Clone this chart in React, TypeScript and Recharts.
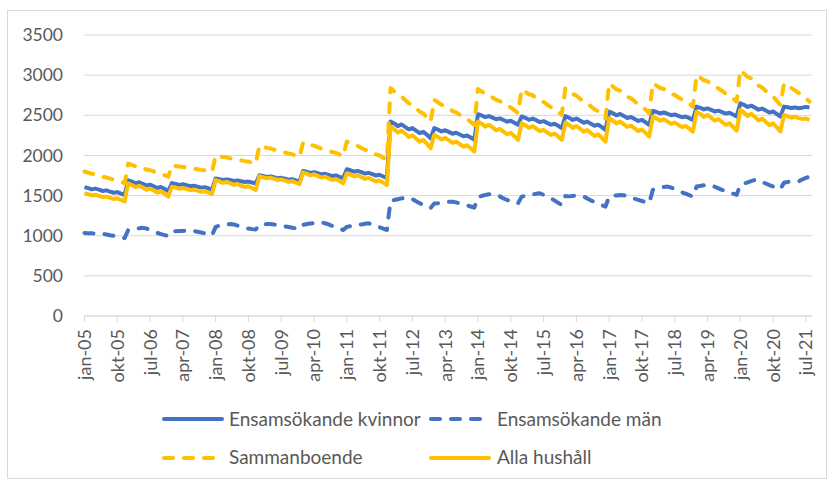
import React from 'react';
import { LineChart, Line, XAxis, YAxis, CartesianGrid, Legend } from 'recharts';

const monthNames = ['jan', 'feb', 'mar', 'apr', 'maj', 'jun', 'jul', 'aug', 'sep', 'okt', 'nov', 'dec'];
const yearLabels = ['05', '06', '07', '08', '09', '10', '11', '12', '13', '14', '15', '16', '17', '18', '19', '20', '21'];
const lastYearMonths = 8;

const categories: string[] = [];
yearLabels.forEach((yy, yi) => {
  const n = yi === yearLabels.length - 1 ? lastYearMonths : 12;
  for (let m = 0; m < n; m++) categories.push(`${monthNames[m]}-${yy}`);
});

const yTicks = [0, 500, 1000, 1500, 2000, 2500, 3000, 3500];

const kvinnor = [
  1605, 1593, 1577, 1587, 1573, 1557, 1565, 1550, 1535, 1543, 1525, 1505,
  1690, 1674, 1652, 1666, 1647, 1625, 1636, 1616, 1595, 1606, 1582, 1555,
  1655, 1645, 1633, 1641, 1629, 1617, 1623, 1611, 1599, 1605, 1591, 1575,
  1713, 1705, 1695, 1702, 1693, 1683, 1688, 1678, 1669, 1674, 1663, 1650,
  1754, 1744, 1731, 1739, 1728, 1715, 1721, 1709, 1697, 1703, 1688, 1672,
  1807, 1796, 1782, 1791, 1778, 1763, 1771, 1757, 1743, 1751, 1734, 1716,
  1828, 1815, 1797, 1808, 1792, 1774, 1783, 1766, 1750, 1759, 1738, 1716,
  2423, 2398, 2365, 2386, 2356, 2323, 2340, 2309, 2277, 2294, 2257, 2215,
  2340, 2322, 2299, 2314, 2293, 2270, 2282, 2260, 2238, 2249, 2223, 2194,
  2514, 2498, 2477, 2490, 2471, 2450, 2461, 2441, 2421, 2432, 2408, 2381,
  2485, 2468, 2444, 2459, 2439, 2415, 2427, 2405, 2383, 2395, 2369, 2340,
  2490, 2469, 2442, 2459, 2435, 2407, 2421, 2395, 2370, 2383, 2352, 2318,
  2546, 2526, 2500, 2516, 2493, 2466, 2480, 2455, 2430, 2443, 2413, 2380,
  2555, 2541, 2523, 2535, 2519, 2501, 2510, 2493, 2476, 2485, 2465, 2442,
  2608, 2593, 2573, 2586, 2568, 2548, 2558, 2540, 2521, 2531, 2509, 2484,
  2650, 2630, 2604, 2620, 2597, 2570, 2584, 2559, 2534, 2547, 2517, 2484,
  2608, 2600, 2590, 2598, 2588, 2595, 2605, 2598,
];

const man = [
  1035, 1032, 1030, 1028, 1030, 1025, 1015, 1005, 1000, 990, 980, 970,
  1070, 1080, 1088, 1092, 1098, 1090, 1070, 1050, 1035, 1020, 1008, 996,
  1050, 1055, 1058, 1060, 1062, 1065, 1060, 1050, 1040, 1030, 1018, 1005,
  1110, 1125, 1135, 1142, 1145, 1140, 1125, 1110, 1098, 1090, 1082, 1078,
  1135, 1140, 1145, 1147, 1140, 1130, 1122, 1115, 1108, 1100, 1092, 1085,
  1135, 1145, 1152, 1158, 1162, 1166, 1155, 1140, 1122, 1105, 1088, 1071,
  1110, 1118, 1125, 1133, 1140, 1148, 1154, 1140, 1125, 1105, 1088, 1071,
  1433, 1445, 1455, 1465, 1470, 1474, 1455, 1430, 1405, 1385, 1365, 1345,
  1400, 1405, 1412, 1418, 1422, 1424, 1415, 1402, 1390, 1378, 1364, 1350,
  1480, 1495, 1508, 1516, 1520, 1515, 1490, 1465, 1445, 1430, 1415, 1403,
  1487, 1495, 1505, 1515, 1522, 1528, 1510, 1490, 1465, 1440, 1410, 1383,
  1495, 1490, 1495, 1500, 1498, 1488, 1465, 1440, 1420, 1400, 1380, 1363,
  1488, 1495, 1502, 1508, 1505, 1490, 1475, 1460, 1446, 1432, 1418, 1405,
  1571, 1585, 1598, 1608, 1612, 1600, 1580, 1560, 1540, 1525, 1505, 1488,
  1612, 1620, 1628, 1633, 1625, 1610, 1590, 1571, 1555, 1540, 1524, 1508,
  1633, 1648, 1665, 1680, 1695, 1690, 1670, 1650, 1630, 1612, 1595, 1580,
  1660, 1670, 1674, 1672, 1675, 1700, 1720, 1737,
];

const sammanboende = [
  1800, 1785, 1771, 1765, 1749, 1734, 1726, 1712, 1697, 1688, 1671, 1653,
  1898, 1882, 1865, 1859, 1841, 1824, 1816, 1800, 1783, 1773, 1754, 1734,
  1877, 1869, 1861, 1857, 1848, 1840, 1836, 1828, 1820, 1815, 1805, 1795,
  2000, 1990, 1980, 1976, 1964, 1954, 1949, 1939, 1929, 1922, 1910, 1898,
  2123, 2109, 2094, 2089, 2073, 2059, 2051, 2037, 2023, 2014, 1997, 1980,
  2164, 2147, 2129, 2122, 2103, 2086, 2077, 2060, 2042, 2032, 2011, 1990,
  2173, 2150, 2127, 2118, 2093, 2070, 2058, 2036, 2013, 1999, 1971, 1944,
  2839, 2797, 2755, 2738, 2692, 2650, 2629, 2588, 2546, 2521, 2470, 2420,
  2693, 2662, 2631, 2618, 2584, 2553, 2537, 2506, 2475, 2456, 2418, 2381,
  2826, 2796, 2766, 2754, 2721, 2691, 2676, 2647, 2617, 2599, 2563, 2527,
  2826, 2794, 2762, 2749, 2714, 2682, 2666, 2634, 2602, 2583, 2544, 2506,
  2839, 2801, 2763, 2748, 2706, 2668, 2649, 2612, 2574, 2551, 2505, 2460,
  2898, 2861, 2823, 2808, 2767, 2730, 2711, 2674, 2637, 2615, 2570, 2525,
  2898, 2869, 2840, 2828, 2796, 2767, 2753, 2724, 2695, 2678, 2643, 2608,
  3002, 2969, 2936, 2922, 2886, 2853, 2836, 2803, 2770, 2750, 2710, 2670,
  3065, 3021, 2978, 2960, 2912, 2869, 2847, 2803, 2760, 2734, 2681, 2629,
  2898, 2870, 2840, 2810, 2780, 2745, 2710, 2670,
];

const alla = [
  1530, 1518, 1501, 1511, 1497, 1480, 1488, 1473, 1457, 1466, 1447, 1426,
  1652, 1632, 1606, 1622, 1600, 1573, 1586, 1562, 1537, 1550, 1521, 1488,
  1611, 1600, 1586, 1595, 1582, 1567, 1575, 1561, 1547, 1555, 1538, 1520,
  1693, 1678, 1659, 1671, 1654, 1634, 1644, 1625, 1607, 1617, 1595, 1570,
  1742, 1730, 1714, 1724, 1710, 1694, 1702, 1687, 1672, 1680, 1662, 1642,
  1790, 1774, 1752, 1765, 1746, 1724, 1735, 1715, 1694, 1705, 1680, 1653,
  1778, 1760, 1737, 1752, 1731, 1708, 1720, 1698, 1676, 1687, 1661, 1632,
  2360, 2328, 2284, 2311, 2274, 2230, 2252, 2211, 2171, 2193, 2144, 2090,
  2256, 2231, 2198, 2219, 2189, 2156, 2173, 2142, 2110, 2127, 2090, 2048,
  2423, 2396, 2359, 2382, 2350, 2313, 2331, 2297, 2263, 2281, 2240, 2194,
  2402, 2377, 2344, 2365, 2335, 2302, 2319, 2288, 2256, 2273, 2236, 2194,
  2410, 2381, 2343, 2367, 2334, 2296, 2315, 2279, 2243, 2262, 2220, 2172,
  2463, 2436, 2399, 2422, 2390, 2354, 2372, 2338, 2303, 2322, 2281, 2235,
  2484, 2462, 2432, 2450, 2424, 2394, 2409, 2381, 2353, 2368, 2334, 2297,
  2546, 2518, 2480, 2504, 2470, 2433, 2452, 2416, 2381, 2400, 2357, 2310,
  2567, 2535, 2491, 2518, 2481, 2437, 2459, 2418, 2378, 2400, 2351, 2297,
  2504, 2490, 2470, 2482, 2465, 2455, 2460, 2442,
];

const seriesNames = ['Ensamsökande kvinnor', 'Ensamsökande män', 'Sammanboende', 'Alla hushåll'];

const data = categories.map((month, i) => ({
  month,
  kvinnor: kvinnor[i],
  man: man[i],
  sammanboende: sammanboende[i],
  alla: alla[i],
}));

const BLUE = '#4472C4';
const YELLOW = '#FFC000';
const GRID = '#D9D9D9';
const TEXT = '#595959';
const FONT = 'Lato, "Open Sans", sans-serif';
const DASH = '9 11';

const XTick = (props: any) => {
  const { x, y, payload } = props;
  return (
    <text
      x={x}
      y={y}
      transform={`rotate(-90, ${x}, ${y})`}
      textAnchor="end"
      dy="0.36em"
      fill={TEXT}
      fontSize={18}
      fontFamily={FONT}
    >
      {payload.value}
    </text>
  );
};

const legendLayout = [
  { color: BLUE, dashed: false, x1: 164, x2: 222, tx: 229, row: 0 },
  { color: BLUE, dashed: true, x1: 431, x2: 485, tx: 497, row: 0 },
  { color: YELLOW, dashed: true, x1: 164, x2: 216, tx: 229, row: 1 },
  { color: YELLOW, dashed: false, x1: 431, x2: 489, tx: 497, row: 1 },
];
const rowLineY = [19, 58];
const rowTextY = [26, 64];

const LegendContent = () => (
  <svg width={828} height={80} style={{ display: 'block' }}>
    {legendLayout.map((it, i) => (
      <g key={i}>
        <line
          x1={it.x1}
          x2={it.x2}
          y1={rowLineY[it.row]}
          y2={rowLineY[it.row]}
          stroke={it.color}
          strokeWidth={4}
          strokeLinecap="round"
          strokeDasharray={it.dashed ? DASH : undefined}
        />
        <text x={it.tx} y={rowTextY[it.row]} fill={TEXT} fontSize={19} fontFamily={FONT}>
          {seriesNames[i]}
        </text>
      </g>
    ))}
  </svg>
);

export default function App() {
  return (
    <div style={{ position: 'absolute', left: 0, top: 0, width: 828, height: 480, background: '#fff' }}>
      <div
        style={{
          position: 'absolute',
          left: 7,
          top: 10,
          width: 818,
          height: 467,
          border: `1px solid ${GRID}`,
        }}
      />
      <LineChart
        width={828}
        height={480}
        data={data}
        margin={{ top: 35, right: 16, left: 0, bottom: 0 }}
        style={{ position: 'absolute', left: 0, top: 0 }}
      >
        <CartesianGrid vertical={false} stroke={GRID} strokeWidth={1} />
        <XAxis
          dataKey="month"
          interval={8}
          height={164}
          tickSize={6}
          tickMargin={7}
          axisLine={{ stroke: GRID, strokeWidth: 1 }}
          tickLine={{ stroke: GRID, strokeWidth: 1 }}
          tick={<XTick />}
          padding={{ left: 0.5, right: 2.5 }}
        />
        <YAxis
          width={84}
          domain={[0, 3500]}
          ticks={yTicks}
          interval={0}
          axisLine={false}
          tickLine={false}
          tickSize={0}
          tickMargin={21}
          tick={{ fill: TEXT, fontSize: 17.5, fontFamily: FONT }}
        />
        <Legend
          verticalAlign="middle"
          align="center"
          layout="horizontal"
          wrapperStyle={{ position: 'absolute', left: 0, top: 400, width: 828, height: 80 }}
          content={<LegendContent />}
        />
        <Line
          type="linear"
          dataKey="kvinnor"
          name={seriesNames[0]}
          stroke={BLUE}
          strokeWidth={4}
          dot={false}
          strokeLinejoin="round"
          isAnimationActive={false}
        />
        <Line
          type="linear"
          dataKey="man"
          name={seriesNames[1]}
          stroke={BLUE}
          strokeWidth={4}
          strokeDasharray={DASH}
          strokeLinecap="round"
          dot={false}
          strokeLinejoin="round"
          isAnimationActive={false}
        />
        <Line
          type="linear"
          dataKey="sammanboende"
          name={seriesNames[2]}
          stroke={YELLOW}
          strokeWidth={4}
          strokeDasharray={DASH}
          strokeLinecap="round"
          dot={false}
          strokeLinejoin="round"
          isAnimationActive={false}
        />
        <Line
          type="linear"
          dataKey="alla"
          name={seriesNames[3]}
          stroke={YELLOW}
          strokeWidth={4}
          dot={false}
          strokeLinejoin="round"
          isAnimationActive={false}
        />
      </LineChart>
    </div>
  );
}
